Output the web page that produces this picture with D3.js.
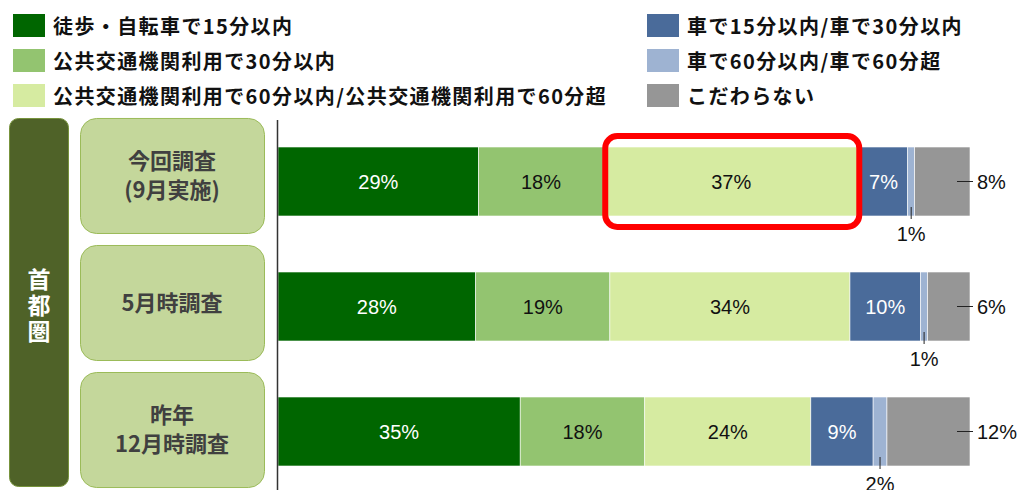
<!DOCTYPE html>
<html>
<head>
<meta charset="utf-8">
<script src="https://cdn.jsdelivr.net/npm/d3@7"></script>
<style>
  body { margin: 0; background: #fff; }
  svg { display: block; }
</style>
</head>
<body>
<svg id="chart" width="1023" height="490"></svg>
<script>
// Survey waves (row labels, one line per array entry)
const categories = [["今回調査", "(9月実施)"], ["5月時調査"], ["昨年", "12月時調査"]];
const regionLabel = "首都圏";

// Legend / series names
const seriesNames = [
  "徒歩・自転車で15分以内",
  "公共交通機関利用で30分以内",
  "公共交通機関利用で60分以内/公共交通機関利用で60分超",
  "車で15分以内/車で30分以内",
  "車で60分以内/車で60分超",
  "こだわらない"
];

// Share of respondents (%) per wave
const walkBike15   = [29, 28, 35];
const transit30    = [18, 19, 18];
const transit60    = [37, 34, 24];
const car30        = [7, 10, 9];
const car60        = [1, 1, 2];
const noPreference = [8, 6, 12];

const seriesValues = [walkBike15, transit30, transit60, car30, car60, noPreference];
const colors = ["#006600", "#93c470", "#d6eba1", "#4a6b9a", "#9eb3d2", "#969696"];
const labelColors = ["#ffffff", "#111111", "#111111", "#ffffff", null, null];
// how each segment's value label is placed
const labelMode = ["inside", "inside", "inside", "inside", "below", "right"];

const keys = seriesNames.map((_, i) => "s" + i);
const rows = categories.map((c, r) => {
  const o = { cat: r };
  keys.forEach((k, i) => o[k] = seriesValues[i][r]);
  return o;
});

const svg = d3.select("#chart");
const jp = "'Noto Sans CJK JP', 'Noto Sans', sans-serif";
const num = "'Liberation Sans', Arial, sans-serif";

// ---- legend ----
const legendCols = [{ x: 13, items: [0, 1, 2] }, { x: 647, items: [3, 4, 5] }];
const legendRowY = d3.scalePoint().domain([0, 1, 2]).range([14, 84]);
legendCols.forEach(col => {
  col.items.forEach((si, ri) => {
    const g = svg.append("g").attr("transform", `translate(${col.x},${legendRowY(ri)})`);
    g.append("rect").attr("width", 32).attr("height", 23).attr("fill", colors[si]);
    g.append("text")
      .attr("x", 40).attr("y", 19.5)
      .attr("font-family", jp).attr("font-weight", "bold")
      .attr("font-size", 20).attr("letter-spacing", "1.4px")
      .attr("fill", "#111")
      .text(seriesNames[si]);
  });
});

// ---- scales ----
const x = d3.scaleLinear().domain([0, 1]).range([278, 970]);
const y = d3.scaleBand().domain(d3.range(categories.length))
  .range([119, 494]).paddingInner(0.448).paddingOuter(0.224);
const boxY = d3.scaleBand().domain(d3.range(categories.length))
  .range([112, 493]).paddingInner(0.0945).paddingOuter(0.047);

// ---- region block (vertical label) ----
svg.append("rect")
  .attr("x", 9.5).attr("y", 118.5).attr("width", 59).attr("height", 368)
  .attr("rx", 9).attr("fill", "#4f6228").attr("stroke", "#77933c").attr("stroke-width", 1);
svg.append("text")
  .attr("x", 39).attr("y", 307)
  .attr("text-anchor", "middle")
  .style("writing-mode", "vertical-rl")
  .attr("letter-spacing", "3px")
  .attr("font-family", jp).attr("font-weight", "bold").attr("font-size", 23)
  .attr("fill", "#fff").text(regionLabel);

// ---- wave label boxes ----
categories.forEach((lines, r) => {
  const top = boxY(r), h = boxY.bandwidth();
  svg.append("rect")
    .attr("x", 80.5).attr("y", top + 0.5).attr("width", 184).attr("height", h)
    .attr("rx", 16).attr("fill", "#c4d79b").attr("stroke", "#9bbb59").attr("stroke-width", 1);
  const cy = top + h / 2;
  const lh = 29;
  lines.forEach((ln, li) => {
    const off = (li - (lines.length - 1) / 2) * lh;
    svg.append("text")
      .attr("x", 172).attr("y", cy + off + 8)
      .attr("text-anchor", "middle")
      .attr("font-family", jp).attr("font-weight", "bold").attr("font-size", 22)
      .attr("fill", "#404040").text(ln);
  });
});

// ---- stacked bars ----
const stack = d3.stack().keys(keys).offset(d3.stackOffsetExpand);
const layers = stack(rows);

const barG = svg.append("g");
layers.forEach((layer, si) => {
  barG.selectAll(null).data(layer).enter().append("rect")
    .attr("x", d => x(d[0]))
    .attr("y", d => y(d.data.cat))
    .attr("width", d => x(d[1]) - x(d[0]))
    .attr("height", y.bandwidth())
    .attr("fill", colors[si])
    .attr("stroke", "#ffffff").attr("stroke-width", 0.6);
});

// axis line at the bars' base
svg.append("line")
  .attr("x1", 277.5).attr("x2", 277.5).attr("y1", 120).attr("y2", 490)
  .attr("stroke", "#333").attr("stroke-width", 1.5);

// ---- value labels ----
layers.forEach((layer, si) => {
  layer.forEach(d => {
    const r = d.data.cat;
    const v = seriesValues[si][r];
    const x0 = x(d[0]), x1 = x(d[1]);
    const top = y(r), bh = y.bandwidth(), mid = top + bh / 2, bottom = top + bh;
    const mode = labelMode[si];
    if (mode === "inside") {
      svg.append("text")
        .attr("x", (x0 + x1) / 2).attr("y", mid + 7)
        .attr("text-anchor", "middle")
        .attr("font-family", num).attr("font-size", 20)
        .attr("fill", labelColors[si]).text(v + "%");
    } else if (mode === "below") {
      const cx = (x0 + x1) / 2;
      svg.append("line")
        .attr("x1", cx).attr("x2", cx).attr("y1", bottom - 9).attr("y2", bottom + 3)
        .attr("stroke", "#222").attr("stroke-width", 1);
      svg.append("text")
        .attr("x", cx).attr("y", bottom + 25)
        .attr("text-anchor", "middle")
        .attr("font-family", num).attr("font-size", 20)
        .attr("fill", "#111").text(v + "%");
    } else {
      svg.append("line")
        .attr("x1", x1 - 13).attr("x2", x1 + 3).attr("y1", mid).attr("y2", mid)
        .attr("stroke", "#222").attr("stroke-width", 1);
      svg.append("text")
        .attr("x", x1 + 7).attr("y", mid + 7.5)
        .attr("font-family", num).attr("font-size", 20)
        .attr("fill", "#111").text(v + "%");
    }
  });
});

// ---- highlight around the latest transit-60 segment ----
const hl = layers[2][0];
const hx0 = x(hl[0]), hx1 = x(hl[1]);
svg.append("rect")
  .attr("x", hx0 + 2).attr("y", y(0) - 11)
  .attr("width", hx1 - hx0 - 2).attr("height", y.bandwidth() + 22)
  .attr("rx", 12).attr("fill", "none")
  .attr("stroke", "#ff0000").attr("stroke-width", 6);
</script>
</body>
</html>
